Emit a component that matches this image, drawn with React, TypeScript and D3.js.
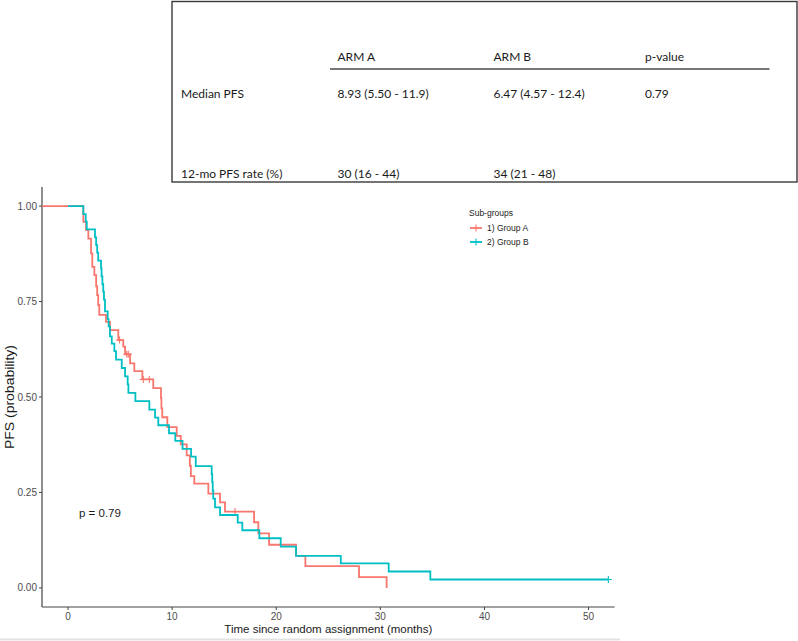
import React from 'react';
import * as d3 from 'd3';

// ---- data ----
const timesA = [-3, 1.47, 1.73, 1.95, 2.21, 2.33, 2.53, 2.7, 2.8, 2.9, 3.0, 3.65, 4.03, 4.83, 5.31, 5.48, 5.96, 6.37, 7.14, 8.19, 8.93, 8.97, 9.05, 9.54, 10.44, 10.83, 11.4, 11.7, 11.8, 12.13, 13.48, 14.6, 15.08, 17.87, 18.28, 19.31, 21.9, 22.8, 27.95, 30.6];
const survA = [1, 0.959, 0.937, 0.915, 0.876, 0.841, 0.819, 0.79, 0.767, 0.741, 0.715, 0.697, 0.675, 0.649, 0.632, 0.612, 0.588, 0.568, 0.546, 0.523, 0.497, 0.47, 0.447, 0.421, 0.398, 0.376, 0.347, 0.32, 0.293, 0.273, 0.247, 0.224, 0.2, 0.172, 0.143, 0.113, 0.084, 0.057, 0.028, 0];
const censorA = [4.95, 5.64, 5.79, 7.23, 7.81, 16.04];
const endA = 30.6;

const timesB = [0, 1.47, 1.7, 1.8, 2.59, 2.7, 2.8, 2.9, 3.17, 3.22, 3.3, 3.38, 3.45, 3.55, 3.81, 3.9, 4.03, 4.2, 4.45, 4.61, 5.16, 5.48, 5.73, 5.8, 6.47, 7.81, 8.36, 8.67, 9.7, 10.3, 11.0, 11.82, 12.27, 13.8, 13.85, 13.9, 13.95, 14.12, 14.6, 16.3, 16.74, 18.38, 20.43, 21.9, 26.2, 30.8, 34.8];
const survB = [1, 0.979, 0.959, 0.939, 0.918, 0.898, 0.878, 0.857, 0.837, 0.816, 0.796, 0.776, 0.755, 0.724, 0.704, 0.685, 0.659, 0.64, 0.62, 0.598, 0.576, 0.554, 0.533, 0.511, 0.489, 0.467, 0.446, 0.426, 0.405, 0.385, 0.364, 0.344, 0.319, 0.298, 0.277, 0.255, 0.234, 0.211, 0.191, 0.171, 0.151, 0.13, 0.108, 0.084, 0.064, 0.043, 0.022];
const censorB = [51.9];
const endB = 51.9;

const seriesNames = ['1) Group A', '2) Group B'];
const seriesColors = ['#F8766D', '#00BFC4'];

const xTicks = [0, 10, 20, 30, 40, 50];
const yTicks = [0, 0.25, 0.5, 0.75, 1];

const tableHeader = ['', 'ARM A', 'ARM B', 'p-value'];
const tableRow1 = ['Median PFS', '8.93 (5.50 - 11.9)', '6.47 (4.57 - 12.4)', '0.79'];
const tableRow2 = ['12-mo PFS rate (%)', '30 (16 - 44)', '34 (21 - 48)', ''];

const pText = 'p = 0.79';
const xTitle = 'Time since random assignment (months)';
const yTitle = 'PFS (probability)';
const legendTitle = 'Sub-groups';

// ---- layout ----
const W = 798;
const H = 641;
const panel = { left: 42, right: 614.6, top: 187, bottom: 607 };

const x = d3.scaleLinear().domain([-2.5, 52.5]).range([panel.left, panel.right]);
const y = d3.scaleLinear().domain([-0.05, 1.05]).range([panel.bottom, panel.top]);

const plotFont = '"Liberation Sans", Arial, sans-serif';
const tableFont = 'Lato, "Open Sans", sans-serif';

function stepPath(times: number[], surv: number[], end: number) {
  const pts: [number, number][] = times.map((t, i) => [t, surv[i]]);
  pts.push([end, surv[surv.length - 1]]);
  const line = d3
    .line<[number, number]>()
    .x((d) => x(d[0]))
    .y((d) => y(d[1]))
    .curve(d3.curveStepAfter);
  return line(pts) || '';
}

function survAt(times: number[], surv: number[], t: number) {
  const i = d3.bisectRight(times, t) - 1;
  return surv[Math.max(0, i)];
}

const groups = [
  { times: timesA, surv: survA, censor: censorA, end: endA },
  { times: timesB, surv: survB, censor: censorB, end: endB },
];

const colX = [181, 337.5, 493.5, 645];

export default function App() {
  return (
    <svg
      width={W}
      height={H}
      style={{ position: 'absolute', left: 0, top: 0, background: '#fff' }}
    >
      <defs>
        <clipPath id="panelClip">
          <rect x={panel.left} y={panel.top - 10} width={panel.right - panel.left} height={panel.bottom - panel.top + 10} />
        </clipPath>
      </defs>
      <rect x={0} y={0} width={W} height={H} fill="#fff" />

      {/* table */}
      <g fontFamily={tableFont} fontSize={12} fill="#1a1a1a">
        <rect x={172} y={1.5} width={625} height={180.5} fill="none" stroke="#3a3a3a" strokeWidth={1.4} />
        {tableHeader.map((h, i) =>
          h ? (
            <text key={'h' + i} x={colX[i]} y={61}>
              {h}
            </text>
          ) : null
        )}
        <line x1={330} x2={769.5} y1={69} y2={69} stroke="#4a4a4a" strokeWidth={1.3} />
        {tableRow1.map((v, i) => (
          <text key={'r1' + i} x={colX[i]} y={97.5}>
            {v}
          </text>
        ))}
        {tableRow2.map((v, i) => (
          <text key={'r2' + i} x={colX[i]} y={177.5}>
            {v}
          </text>
        ))}
      </g>

      {/* axes */}
      <g fontFamily={plotFont}>
        <line x1={panel.left} x2={panel.left} y1={panel.top} y2={panel.bottom} stroke="#444" strokeWidth={1.2} />
        <line x1={panel.left} x2={panel.right} y1={panel.bottom} y2={panel.bottom} stroke="#444" strokeWidth={1.2} />
        {yTicks.map((t) => (
          <g key={'y' + t}>
            <line x1={panel.left - 3} x2={panel.left} y1={y(t)} y2={y(t)} stroke="#444" strokeWidth={1} />
            <text x={panel.left - 5} y={y(t) + 3.5} textAnchor="end" fontSize={10} fill="#4d4d4d">
              {t.toFixed(2)}
            </text>
          </g>
        ))}
        {xTicks.map((t) => (
          <g key={'x' + t}>
            <line x1={x(t)} x2={x(t)} y1={panel.bottom} y2={panel.bottom + 3} stroke="#444" strokeWidth={1} />
            <text x={x(t)} y={panel.bottom + 13} textAnchor="middle" fontSize={10} fill="#4d4d4d">
              {t}
            </text>
          </g>
        ))}
        <text x={(panel.left + panel.right) / 2} y={633} textAnchor="middle" fontSize={11.5} fill="#1a1a1a">
          {xTitle}
        </text>
        <text
          transform={`translate(14,${(panel.top + panel.bottom) / 2}) rotate(-90)`}
          textAnchor="middle"
          fontSize={12}
          textLength={104}
          lengthAdjust="spacingAndGlyphs"
          fill="#1a1a1a"
        >
          {yTitle}
        </text>
        <text x={79} y={517} fontSize={11.5} fill="#1a1a1a">
          {pText}
        </text>
      </g>

      {/* curves */}
      <g clipPath="url(#panelClip)">
        {groups.map((g, gi) => (
          <g key={'g' + gi}>
            <path d={stepPath(g.times, g.surv, g.end)} fill="none" stroke={seriesColors[gi]} strokeWidth={1.8} />
            {g.censor.map((c, ci) => {
              const cx = x(c);
              const cy = y(survAt(g.times, g.surv, c));
              return (
                <g key={'c' + ci} stroke={seriesColors[gi]} strokeWidth={1.1}>
                  <line x1={cx} x2={cx} y1={cy - 3.5} y2={cy + 3.5} />
                  <line x1={cx - 3.5} x2={cx + 3.5} y1={cy} y2={cy} />
                </g>
              );
            })}
          </g>
        ))}
      </g>

      {/* legend */}
      <g fontFamily={plotFont} fontSize={8.5} fill="#1a1a1a">
        <text x={469} y={216}>
          {legendTitle}
        </text>
        {seriesNames.map((n, i) => {
          const ly = 228 + i * 14;
          return (
            <g key={'l' + i}>
              <line x1={470} x2={482} y1={ly} y2={ly} stroke={seriesColors[i]} strokeWidth={1.8} />
              <line x1={476} x2={476} y1={ly - 3.5} y2={ly + 3.5} stroke={seriesColors[i]} strokeWidth={1.1} />
              <text x={487} y={ly + 3}>
                {n}
              </text>
            </g>
          );
        })}
      </g>

      {/* bottom edge line of the screenshot */}
      <line x1={0} x2={620} y1={639.5} y2={639.5} stroke="#e3e3e3" strokeWidth={2} />
    </svg>
  );
}
